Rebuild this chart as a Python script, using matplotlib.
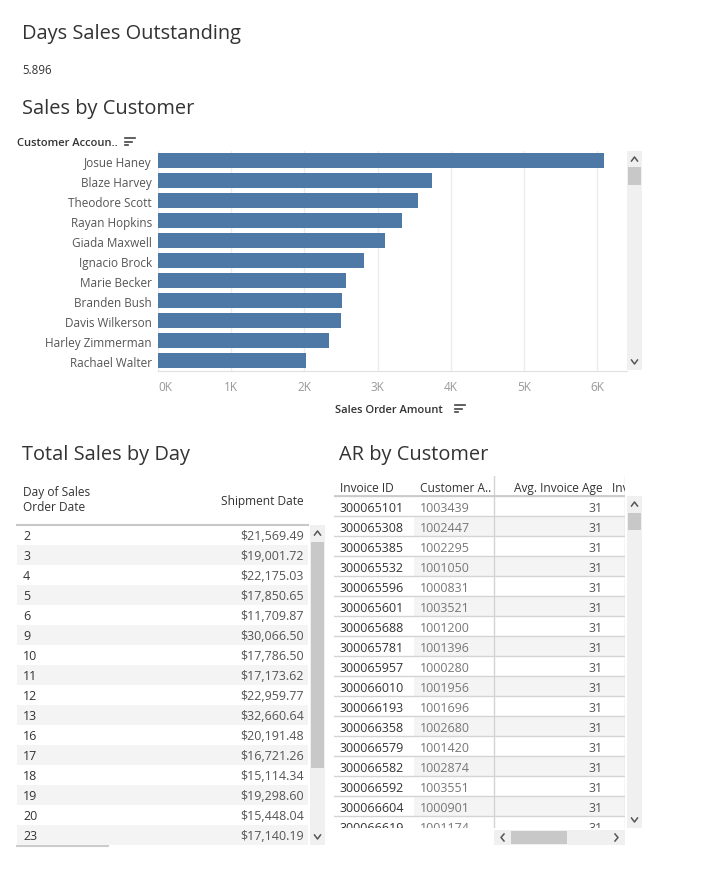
import matplotlib
matplotlib.use("Agg")
from matplotlib import pyplot as plt
from matplotlib.patches import Rectangle

plt.rcParams["font.family"] = ["Open Sans", "DejaVu Sans"]

dso_value = 5.896

customers = ["Josue Haney", "Blaze Harvey", "Theodore Scott", "Rayan Hopkins", "Giada Maxwell",
             "Ignacio Brock", "Marie Becker", "Branden Bush", "Davis Wilkerson", "Harley Zimmerman",
             "Rachael Walter"]
sales_amount = [6090, 3740, 3550, 3330, 3100, 2810, 2570, 2510, 2500, 2340, 2020]
x_ticks = [0, 1000, 2000, 3000, 4000, 5000, 6000]
x_tick_labels = ["0K", "1K", "2K", "3K", "4K", "5K", "6K"]

days = [2, 3, 4, 5, 6, 9, 10, 11, 12, 13, 16, 17, 18, 19, 20, 23]
day_sales = [21569.49, 19001.72, 22175.03, 17850.65, 11709.87, 30066.50, 17786.50, 17173.62,
             22959.77, 32660.64, 20191.48, 16721.26, 15114.34, 19298.60, 15448.04, 17140.19]

invoice_ids = [300065101, 300065308, 300065385, 300065532, 300065596, 300065601, 300065688,
               300065781, 300065957, 300066010, 300066193, 300066358, 300066579, 300066582,
               300066592, 300066604, 300066619]
invoice_customers = [1003439, 1002447, 1002295, 1001050, 1000831, 1003521, 1001200, 1001396,
                     1000280, 1001956, 1001696, 1002680, 1001420, 1002874, 1003551, 1000901,
                     1001174]
invoice_age = [31, 31, 31, 31, 31, 31, 31, 31, 31, 31, 31, 31, 31, 31, 31, 31, 31]

W, H = 708, 887
fig = plt.figure(figsize=(W / 100, H / 100), dpi=100)

DARK = "#333333"
LIGHT = "#999999"
SHADE = "#f4f4f4"
LINE = "#d4d4d4"
TITLE = 14.4
CELL = 9
HEAD = 8.6


def pix_axes(x0, y0, x1, y1):
    # axes placed in pixel coords, with data coords equal to figure pixels
    ax = fig.add_axes([x0 / W, 1 - y1 / H, (x1 - x0) / W, (y1 - y0) / H])
    ax.set_xlim(x0, x1)
    ax.set_ylim(y1, y0)
    ax.axis("off")
    return ax


def chevron(ax, x, y, up=True):
    d = -2 if up else 2
    ax.plot([x - 3, x, x + 3], [y - d, y + d, y - d], color="#555555", lw=1.1)


def vscroll(ax, x0, x1, y0, y1, t0, t1):
    ax.add_patch(Rectangle((x0, y0), x1 - x0, y1 - y0, color="#f0f0f0", lw=0))
    ax.add_patch(Rectangle((x0 + 1, t0), x1 - x0 - 2, t1 - t0, color="#c8c8c8", lw=0))
    chevron(ax, (x0 + x1) / 2, y0 + 8, up=True)
    chevron(ax, (x0 + x1) / 2, y1 - 8, up=False)


def sort_icon(ax, x, y):
    for k, ln in enumerate([10, 7, 3]):
        ax.plot([x, x + ln], [y + k * 3.5, y + k * 3.5], color="#444444", lw=1.2)


bg = pix_axes(0, 0, W, H)

# headings
bg.text(22, 34, "Days Sales Outstanding", fontsize=TITLE, color=DARK, va="center")
bg.text(22, 70, f"{dso_value:.3f}", fontsize=8.3, color=DARK, va="center")
bg.text(22, 109, "Sales by Customer", fontsize=TITLE, color=DARK, va="center")
bg.text(17, 143.5, "Customer Accoun..", fontsize=8, color=DARK, va="center", fontweight="semibold")
sort_icon(bg, 125, 139)
bg.text(22, 455, "Total Sales by Day", fontsize=TITLE, color=DARK, va="center")
bg.text(339, 455, "AR by Customer", fontsize=TITLE, color=DARK, va="center")

# bar chart
ax = fig.add_axes([158 / W, 1 - 371.7 / H, (627 - 158) / W, 220 / H])
ypos = list(range(len(customers)))
ax.barh(ypos, sales_amount, height=0.75, color="#4e79a7", zorder=3)
ax.set_xlim(0, 6410)
ax.set_ylim(len(customers) - 0.5, -0.5)
ax.set_yticks(ypos)
ax.set_yticklabels(customers, fontsize=8.5, color="#555555")
ax.set_xticks(x_ticks)
ax.set_xticklabels(x_tick_labels, fontsize=8.5, color=LIGHT)
ax.get_xticklabels()[0].set_horizontalalignment("left")
ax.tick_params(length=0)
ax.tick_params(axis="y", pad=4.3)
ax.tick_params(axis="x", pad=7)
ax.grid(axis="x", color="#ececec", lw=1, zorder=0)
for s in ["top", "right", "left"]:
    ax.spines[s].set_visible(False)
ax.spines["bottom"].set_color("#e0e0e0")
bg.text(335, 410.5, "Sales Order Amount", fontsize=8, color=DARK, va="center", fontweight="semibold")
sort_icon(bg, 455, 406)
vscroll(bg, 627, 642, 152, 371, 168, 186)

# left table: Total Sales by Day
bg.text(23, 493, "Day of Sales", fontsize=HEAD, color=DARK, va="center")
bg.text(23, 508, "Order Date", fontsize=HEAD, color=DARK, va="center")
bg.text(304, 502, "Shipment Date", fontsize=HEAD, color=DARK, va="center", ha="right")
lt = pix_axes(17, 526, 308, 846)
for i, (d, v) in enumerate(zip(days, day_sales)):
    top = 526 + 20 * i
    if i % 2 == 1:
        lt.add_patch(Rectangle((17, top), 291, 20, color=SHADE, lw=0))
    lt.text(23, top + 11, str(d), fontsize=CELL, color=DARK, va="center", clip_on=True)
    lt.text(304, top + 11, f"${v:,.2f}", fontsize=CELL, color="#555555", va="center", ha="right",
            clip_on=True)
bg.plot([17, 308], [525.5, 525.5], color="#c8c8c8", lw=1.5)
vscroll(bg, 310, 325, 526, 846, 543, 769)
bg.plot([17, 108], [847.5, 847.5], color="#cccccc", lw=1.5)

# right table: AR by Customer
rt = pix_axes(334, 477, 625, 829)
rt.text(340, 488, "Invoice ID", fontsize=HEAD, color=DARK, va="center", clip_on=True)
rt.text(420, 488, "Customer A..", fontsize=HEAD, color=DARK, va="center", clip_on=True)
rt.text(603, 488, "Avg. Invoice Age", fontsize=HEAD, color=DARK, va="center", ha="right",
        clip_on=True)
rt.text(612, 488, "Invoice Amount", fontsize=HEAD, color=DARK, va="center", clip_on=True)
for i, (inv, cu, ag) in enumerate(zip(invoice_ids, invoice_customers, invoice_age)):
    top = 497 + 20 * i
    if i % 2 == 1:
        rt.add_patch(Rectangle((414, top), 211, 20, color=SHADE, lw=0))
    rt.text(340, top + 11, str(inv), fontsize=CELL, color=DARK, va="center", clip_on=True)
    rt.text(420, top + 11, str(cu), fontsize=CELL, color="#777777", va="center", clip_on=True)
    rt.text(603, top + 11, str(ag), fontsize=CELL, color="#555555", va="center", ha="right",
            clip_on=True)
    rt.plot([334, 625], [top, top], color=LINE, lw=1)
rt.plot([494, 494], [477, 829], color=LINE, lw=1)
rt.plot([624.5, 624.5], [477, 829], color=LINE, lw=1)
rt.plot([334, 625], [497, 497], color="#c8c8c8", lw=1.2)
vscroll(bg, 627, 642, 497, 829, 514, 531)
bg.add_patch(Rectangle((494, 831), 131, 15, color="#f0f0f0", lw=0))
bg.add_patch(Rectangle((511, 832), 56, 13, color="#c8c8c8", lw=0))
bg.plot([504, 501, 504], [835, 838.5, 842], color="#555555", lw=1.1)
bg.plot([615, 618, 615], [835, 838.5, 842], color="#555555", lw=1.1)

fig.savefig("out.png", dpi=100)
